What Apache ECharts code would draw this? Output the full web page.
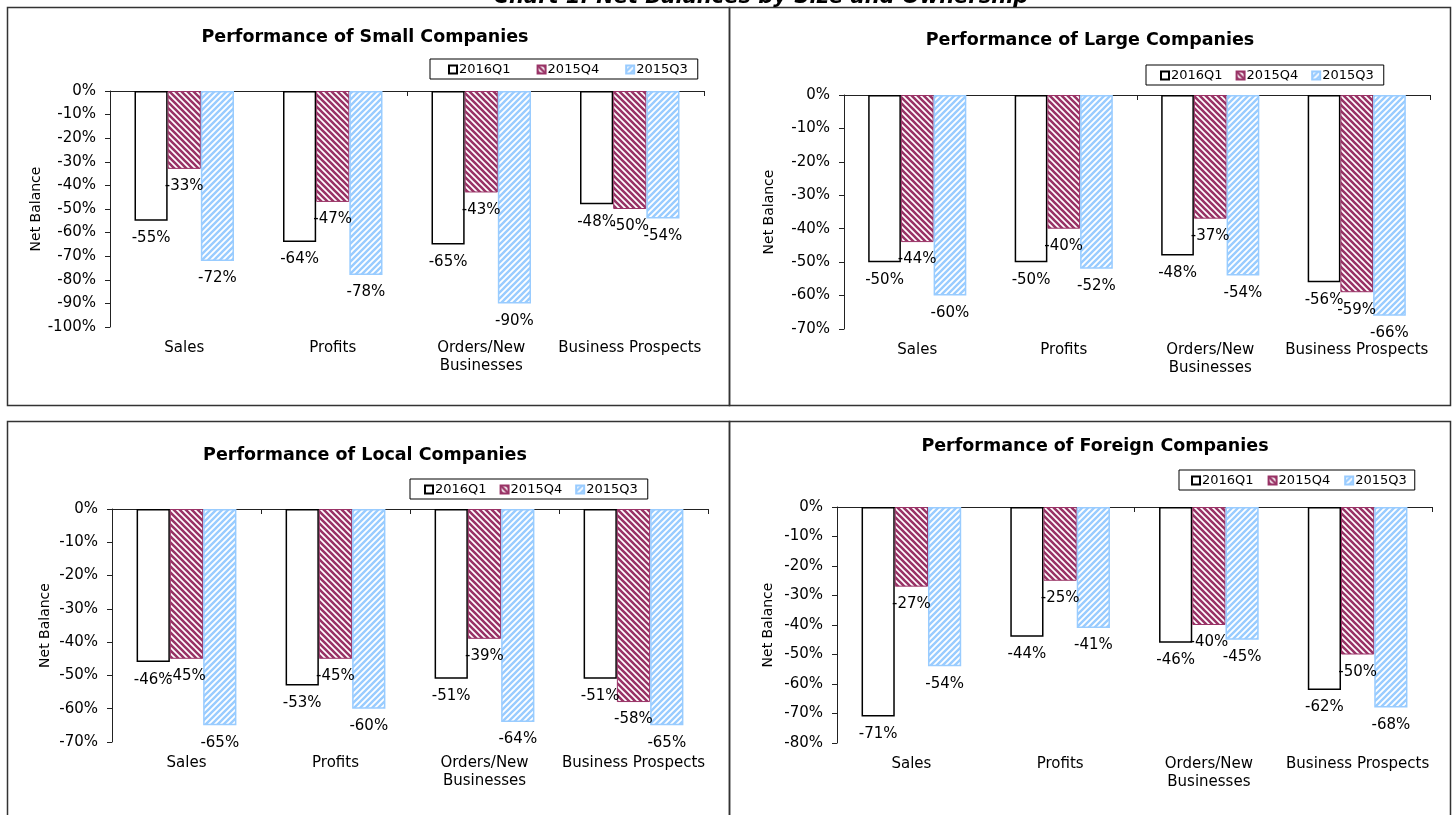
<!DOCTYPE html>
<html>
<head>
<meta charset="utf-8">
<script src="https://cdn.jsdelivr.net/npm/echarts@6/dist/echarts.min.js"></script>
<style>
html,body{margin:0;padding:0;background:#fff;}
#c{width:1455px;height:815px;}
</style>
</head>
<body>
<div id="c"></div>
<script>
// ---- data ----
const categories = ['Sales', 'Profits', 'Orders/New\nBusinesses', 'Business Prospects'];
const seriesNames = ['2016Q1', '2015Q4', '2015Q3'];

const smallQ1 = [-55, -64, -65, -48];
const smallQ4 = [-33, -47, -43, -50];
const smallQ3 = [-72, -78, -90, -54];

const largeQ1 = [-50, -50, -48, -56];
const largeQ4 = [-44, -40, -37, -59];
const largeQ3 = [-60, -52, -54, -66];

const localQ1 = [-46, -53, -51, -51];
const localQ4 = [-45, -45, -39, -58];
const localQ3 = [-65, -60, -64, -65];

const foreignQ1 = [-71, -44, -46, -62];
const foreignQ4 = [-27, -25, -40, -50];
const foreignQ3 = [-54, -41, -45, -68];

const panelTitles = ['Performance of Small Companies', 'Performance of Large Companies',
                     'Performance of Local Companies', 'Performance of Foreign Companies'];
const yMins = [-100, -70, -70, -80];
const mainTitle = 'Chart 1: Net Balances by Size and Ownership';

// ---- styling ----
const FONT = 'DejaVu Sans';

function stripe(fg, bg, dir, lw) {
  const s = 6;
  const c = document.createElement('canvas');
  c.width = s; c.height = s;
  const g = c.getContext('2d');
  g.fillStyle = bg; g.fillRect(0, 0, s, s);
  g.strokeStyle = fg; g.lineWidth = lw;
  g.beginPath();
  for (let k = -1; k <= 2; k++) {
    if (dir === 'back') { // "\"
      g.moveTo(-1, k * s - 1); g.lineTo(s + 1, k * s + s + 1);
    } else {               // "/"
      g.moveTo(-1, k * s + 1); g.lineTo(s + 1, k * s - s - 1);
    }
  }
  g.stroke();
  return { image: c, repeat: 'repeat' };
}
const maroonPat = stripe('#993366', '#ffffff', 'back', 2.6);
const bluePat = stripe('#99ccff', '#ffffff', 'fwd', 2.4);

const panels = [
  { q1: smallQ1, q4: smallQ4, q3: smallQ3, grid: { left: 110, top: 91, width: 594, height: 236 },
    titleX: 365, titleY: 28, legend: { left: 430, top: 59, gap: 26, pad: [4, 10, 3, 18] }, nameGap: 67 },
  { q1: largeQ1, q4: largeQ4, q3: largeQ3, grid: { left: 844, top: 95, width: 586, height: 234 },
    titleX: 1090, titleY: 31, legend: { left: 1146, top: 65, gap: 13, pad: [4, 10, 3, 14] }, nameGap: 68 },
  { q1: localQ1, q4: localQ4, q3: localQ3, grid: { left: 112, top: 509, width: 596, height: 233 },
    titleX: 365, titleY: 446, legend: { left: 410, top: 479, gap: 13, pad: [4, 10, 3, 14] }, nameGap: 60 },
  { q1: foreignQ1, q4: foreignQ4, q3: foreignQ3, grid: { left: 837, top: 507, width: 595, height: 236 },
    titleX: 1095, titleY: 437, legend: { left: 1179, top: 470, gap: 14, pad: [4, 8, 3, 12] }, nameGap: 62 }
];

const option = {
  animation: false,
  textStyle: { fontFamily: FONT },
  title: [], grid: [], xAxis: [], yAxis: [], series: [], legend: [],
  graphic: []
};

panels.forEach((p, i) => {
  option.grid.push(p.grid);
  option.title.push({
    text: panelTitles[i], left: p.titleX, top: p.titleY, textAlign: 'center',
    padding: 0,
    textStyle: { fontFamily: FONT, fontWeight: 'bold', fontSize: 17.5, color: '#000' }
  });
  // category axis with labels at bottom
  option.xAxis.push({
    type: 'category', gridIndex: i, data: categories, position: 'bottom',
    axisLine: { show: false, onZero: false }, axisTick: { show: false },
    axisLabel: { color: '#000', fontSize: 15, fontFamily: FONT, margin: 12, lineHeight: 18, interval: 0 }
  });
  // category axis line at zero (top)
  option.xAxis.push({
    type: 'category', gridIndex: i, data: categories, position: 'top',
    axisLine: { show: true, onZero: false, lineStyle: { color: '#222', width: 1 } },
    axisTick: { show: true, inside: true, length: 5, lineStyle: { color: '#222' } },
    axisLabel: { show: false }
  });
  option.yAxis.push({
    type: 'value', gridIndex: i, min: yMins[i], max: 0, interval: 10,
    name: 'Net Balance', nameLocation: 'middle', nameGap: p.nameGap, nameRotate: 90,
    nameTextStyle: { color: '#000', fontSize: 14, fontFamily: FONT },
    axisLine: { show: true, lineStyle: { color: '#222', width: 1 } },
    axisTick: { show: true, length: 5, lineStyle: { color: '#222' } },
    splitLine: { show: false },
    axisLabel: { color: '#000', fontSize: 15, fontFamily: FONT, margin: 14, formatter: v => v + '%' }
  });
  const lbl = { show: true, position: 'bottom', distance: 10, color: '#000', fontSize: 15,
                fontFamily: FONT, formatter: d => d.value + '%' };
  const xi = i * 2;
  option.series.push({
    name: seriesNames[0], type: 'bar', xAxisIndex: xi, yAxisIndex: i, data: p.q1,
    barGap: '0%', barCategoryGap: '33%',
    itemStyle: { color: '#ffffff', borderColor: '#000', borderWidth: 1.5 }, label: lbl
  });
  option.series.push({
    name: seriesNames[1], type: 'bar', xAxisIndex: xi, yAxisIndex: i, data: p.q4,
    barGap: '0%', barCategoryGap: '33%',
    itemStyle: { color: maroonPat, borderColor: '#993366', borderWidth: 1 }, label: lbl
  });
  option.series.push({
    name: seriesNames[2], type: 'bar', xAxisIndex: xi, yAxisIndex: i, data: p.q3,
    barGap: '0%', barCategoryGap: '33%',
    itemStyle: { color: bluePat, borderColor: '#99ccff', borderWidth: 1.5 }, label: lbl
  });
  option.legend.push({
    data: seriesNames, left: p.legend.left, top: p.legend.top, orient: 'horizontal',
    itemWidth: 8, itemHeight: 8, itemGap: p.legend.gap, icon: 'rect',
    borderColor: '#000', borderWidth: 1, padding: p.legend.pad,
    selectedMode: false,
    textStyle: { color: '#000', fontSize: 13, fontFamily: FONT, padding: [0, 0, 0, -3] }
  });
});

// panel borders
option.graphic.push(
  { type: 'rect', shape: { x: 7.5, y: 7.5, width: 722, height: 398 }, style: { fill: null, stroke: '#333', lineWidth: 1.5 }, silent: true },
  { type: 'rect', shape: { x: 729.5, y: 7.5, width: 721, height: 398 }, style: { fill: null, stroke: '#333', lineWidth: 1.5 }, silent: true },
  { type: 'rect', shape: { x: 7.5, y: 421.5, width: 722, height: 420 }, style: { fill: null, stroke: '#333', lineWidth: 1.5 }, silent: true },
  { type: 'rect', shape: { x: 729.5, y: 421.5, width: 721, height: 420 }, style: { fill: null, stroke: '#333', lineWidth: 1.5 }, silent: true },
  { type: 'text', x: 761, y: -2, silent: true,
    style: { text: mainTitle, textAlign: 'center', textVerticalAlign: 'middle',
             font: 'italic bold 21px "DejaVu Sans"', fill: '#000' } }
);

const chart = echarts.init(document.getElementById('c'), null, { renderer: 'canvas' });
chart.setOption(option);
</script>
</body>
</html>
